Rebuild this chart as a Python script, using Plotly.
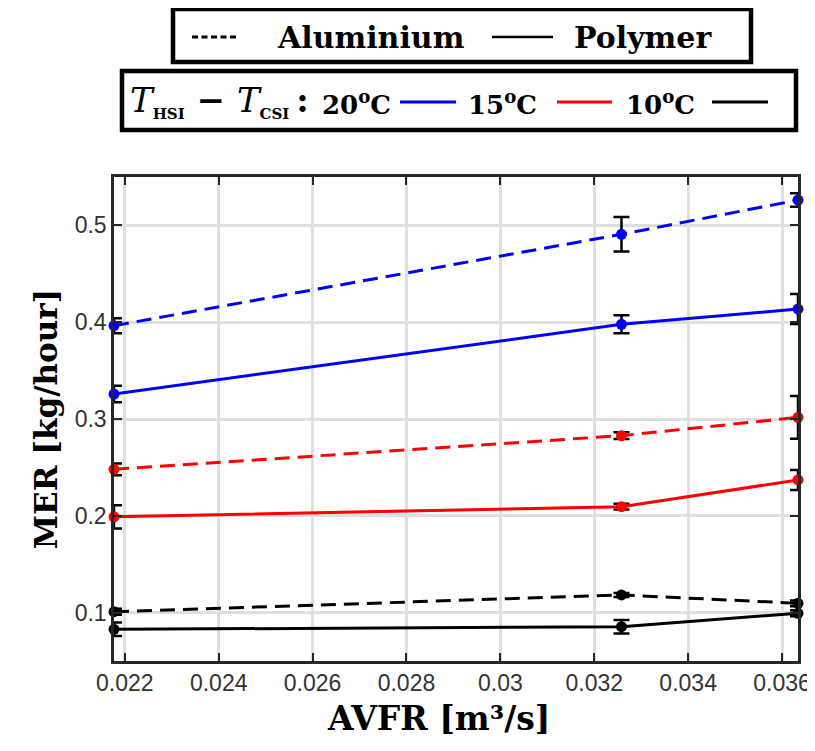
import plotly.graph_objects as go

# ---------------- data ----------------
avfr = [0.02177, 0.03258, 0.03634]          # m^3/s

alu_20 = [0.3964, 0.4908, 0.5262]
alu_20_err = [0.0077, 0.0178, 0.0069]
poly_20 = [0.3258, 0.3978, 0.4136]
poly_20_err = [0.0086, 0.0093, 0.0155]

alu_15 = [0.248, 0.2828, 0.3017]
alu_15_err = [0.006, 0.0035, 0.022]
poly_15 = [0.199, 0.2094, 0.237]
poly_15_err = [0.012, 0.003, 0.0103]

alu_10 = [0.1009, 0.1182, 0.1096]
alu_10_err = [0.003, 0.002, 0.003]
poly_10 = [0.0827, 0.0854, 0.0993]
poly_10_err = [0.007, 0.0069, 0.003]

x_tickvals = [0.022, 0.024, 0.026, 0.028, 0.030, 0.032, 0.034, 0.036]
x_ticktext = ["0.022", "0.024", "0.026", "0.028", "0.03", "0.032", "0.034", "0.036"]
y_tickvals = [0.1, 0.2, 0.3, 0.4, 0.5]
y_ticktext = ["0.1", "0.2", "0.3", "0.4", "0.5"]
y_range = [0.05, 0.55]

dt_labels = ["20<sup>o</sup>C", "15<sup>o</sup>C", "10<sup>o</sup>C"]
dt_colors = ["#0000ff", "#ff0000", "#000000"]
material_labels = ["Aluminium", "Polymer"]

series = [
    (alu_20, alu_20_err, 0, "Aluminium"),
    (poly_20, poly_20_err, 0, "Polymer"),
    (alu_15, alu_15_err, 1, "Aluminium"),
    (poly_15, poly_15_err, 1, "Polymer"),
    (alu_10, alu_10_err, 2, "Aluminium"),
    (poly_10, poly_10_err, 2, "Polymer"),
]

# ---------------- layout geometry (page pixels; body has an 8px margin) ----------------
OFF = 8
W, H = 815 - OFF, 751 - OFF
PL, PR, PT, PB = 114 - OFF, 798 - OFF, 177 - OFF, 661 - OFF


def px(x):
    return (x - OFF - PL) / (PR - PL)


def py(y):
    return (PB - (y - OFF)) / (PB - PT)


fig = go.Figure()
for vals, errs, ci, mat in series:
    fig.add_trace(go.Scatter(
        x=avfr, y=vals,
        mode="lines+markers",
        name=f"{mat} {dt_labels[ci]}",
        line=dict(color=dt_colors[ci], width=3,
                  dash="15px,8px" if mat == "Aluminium" else "solid"),
        marker=dict(color=dt_colors[ci], size=11),
        error_y=dict(type="data", array=errs, visible=True,
                     color="black", thickness=2.5, width=8),
        cliponaxis=False,
        showlegend=False,
    ))

axis_common = dict(
    showline=True, linecolor="#262626", linewidth=2.5, mirror="allticks",
    ticks="inside", ticklen=8, tickwidth=2, tickcolor="#262626",
    showgrid=True, gridcolor="#dfdfdf", gridwidth=2.5,
    zeroline=False,
    tickfont=dict(family="Liberation Sans, Arial, sans-serif", size=23, color="#333333"),
)

fig.update_xaxes(
    range=[min(avfr), max(avfr)],
    tickmode="array", tickvals=x_tickvals, ticktext=x_ticktext,
    ticklabelstandoff=0,
    **axis_common,
)
fig.update_yaxes(
    range=y_range,
    tickmode="array", tickvals=y_tickvals, ticktext=y_ticktext,
    title=dict(text="<b>MER [kg/hour]</b>",
               font=dict(family="DejaVu Serif, serif", size=31, color="black"),
               standoff=8),
    ticklabelstandoff=0,
    **axis_common,
)

shapes = []
annotations = []

# x-axis title (the reference centres it a little left of the axes' centre)
annotations.append(dict(text="<b>AVFR [m³/s]</b>", x=px(438), y=py(718),
                        xref="paper", yref="paper", showarrow=False,
                        xanchor="center", yanchor="middle",
                        font=dict(family="DejaVu Serif, serif", size=33, color="black")))

# legend box 1 : materials
shapes.append(dict(type="rect", xref="paper", yref="paper",
                   x0=px(173), x1=px(751), y0=py(9), y1=py(62),
                   line=dict(color="black", width=4.5), fillcolor="white"))
shapes.append(dict(type="line", xref="paper", yref="paper",
                   x0=px(192), x1=px(238), y0=py(37), y1=py(37),
                   line=dict(color="black", width=3, dash="6px,3.5px")))
annotations.append(dict(text=f"<b>{material_labels[0]}</b>", x=px(371), y=py(37),
                        xref="paper", yref="paper", showarrow=False,
                        xanchor="center", yanchor="middle",
                        font=dict(family="DejaVu Serif, serif", size=30, color="black")))
shapes.append(dict(type="line", xref="paper", yref="paper",
                   x0=px(492), x1=px(553), y0=py(37), y1=py(37),
                   line=dict(color="black", width=2.5)))
annotations.append(dict(text=f"<b>{material_labels[1]}</b>", x=px(643), y=py(37),
                        xref="paper", yref="paper", showarrow=False,
                        xanchor="center", yanchor="middle",
                        font=dict(family="DejaVu Serif, serif", size=30, color="black")))

# legend box 2 : temperature difference
shapes.append(dict(type="rect", xref="paper", yref="paper",
                   x0=px(122), x1=px(796), y0=py(71), y1=py(130),
                   line=dict(color="black", width=4.5), fillcolor="white"))
sub = '<span style="font-size:15px"><b>{}</b></span>'
annotations.append(dict(
    text=("<i>T</i><sub>" + sub.format("HSI") + "</sub><b> − </b><i>T</i><sub>"
          + sub.format("CSI") + "</sub><b>\u2009:</b>"),
    x=px(219), y=py(101), xref="paper", yref="paper", showarrow=False,
    xanchor="center", yanchor="middle",
    font=dict(family="DejaVu Serif, serif", size=34, color="black")))

label_centers = [356, 503, 660]
line_spans = [(400, 456), (557, 612), (712, 768)]
for lab, col, cx, (l0, l1) in zip(dt_labels, dt_colors, label_centers, line_spans):
    annotations.append(dict(text=f"<b>{lab}</b>", x=px(cx), y=py(103),
                            xref="paper", yref="paper", showarrow=False,
                            xanchor="center", yanchor="middle",
                            font=dict(family="DejaVu Serif, serif", size=26, color="black")))
    shapes.append(dict(type="line", xref="paper", yref="paper",
                       x0=px(l0), x1=px(l1), y0=py(102), y1=py(102),
                       line=dict(color=col, width=3)))

fig.update_layout(
    width=W, height=H,
    margin=dict(l=PL, r=W - PR, t=PT, b=H - PB, autoexpand=False),
    paper_bgcolor="white", plot_bgcolor="white",
    shapes=shapes, annotations=annotations,
    showlegend=False,
)

fig.write_html("out.html")
